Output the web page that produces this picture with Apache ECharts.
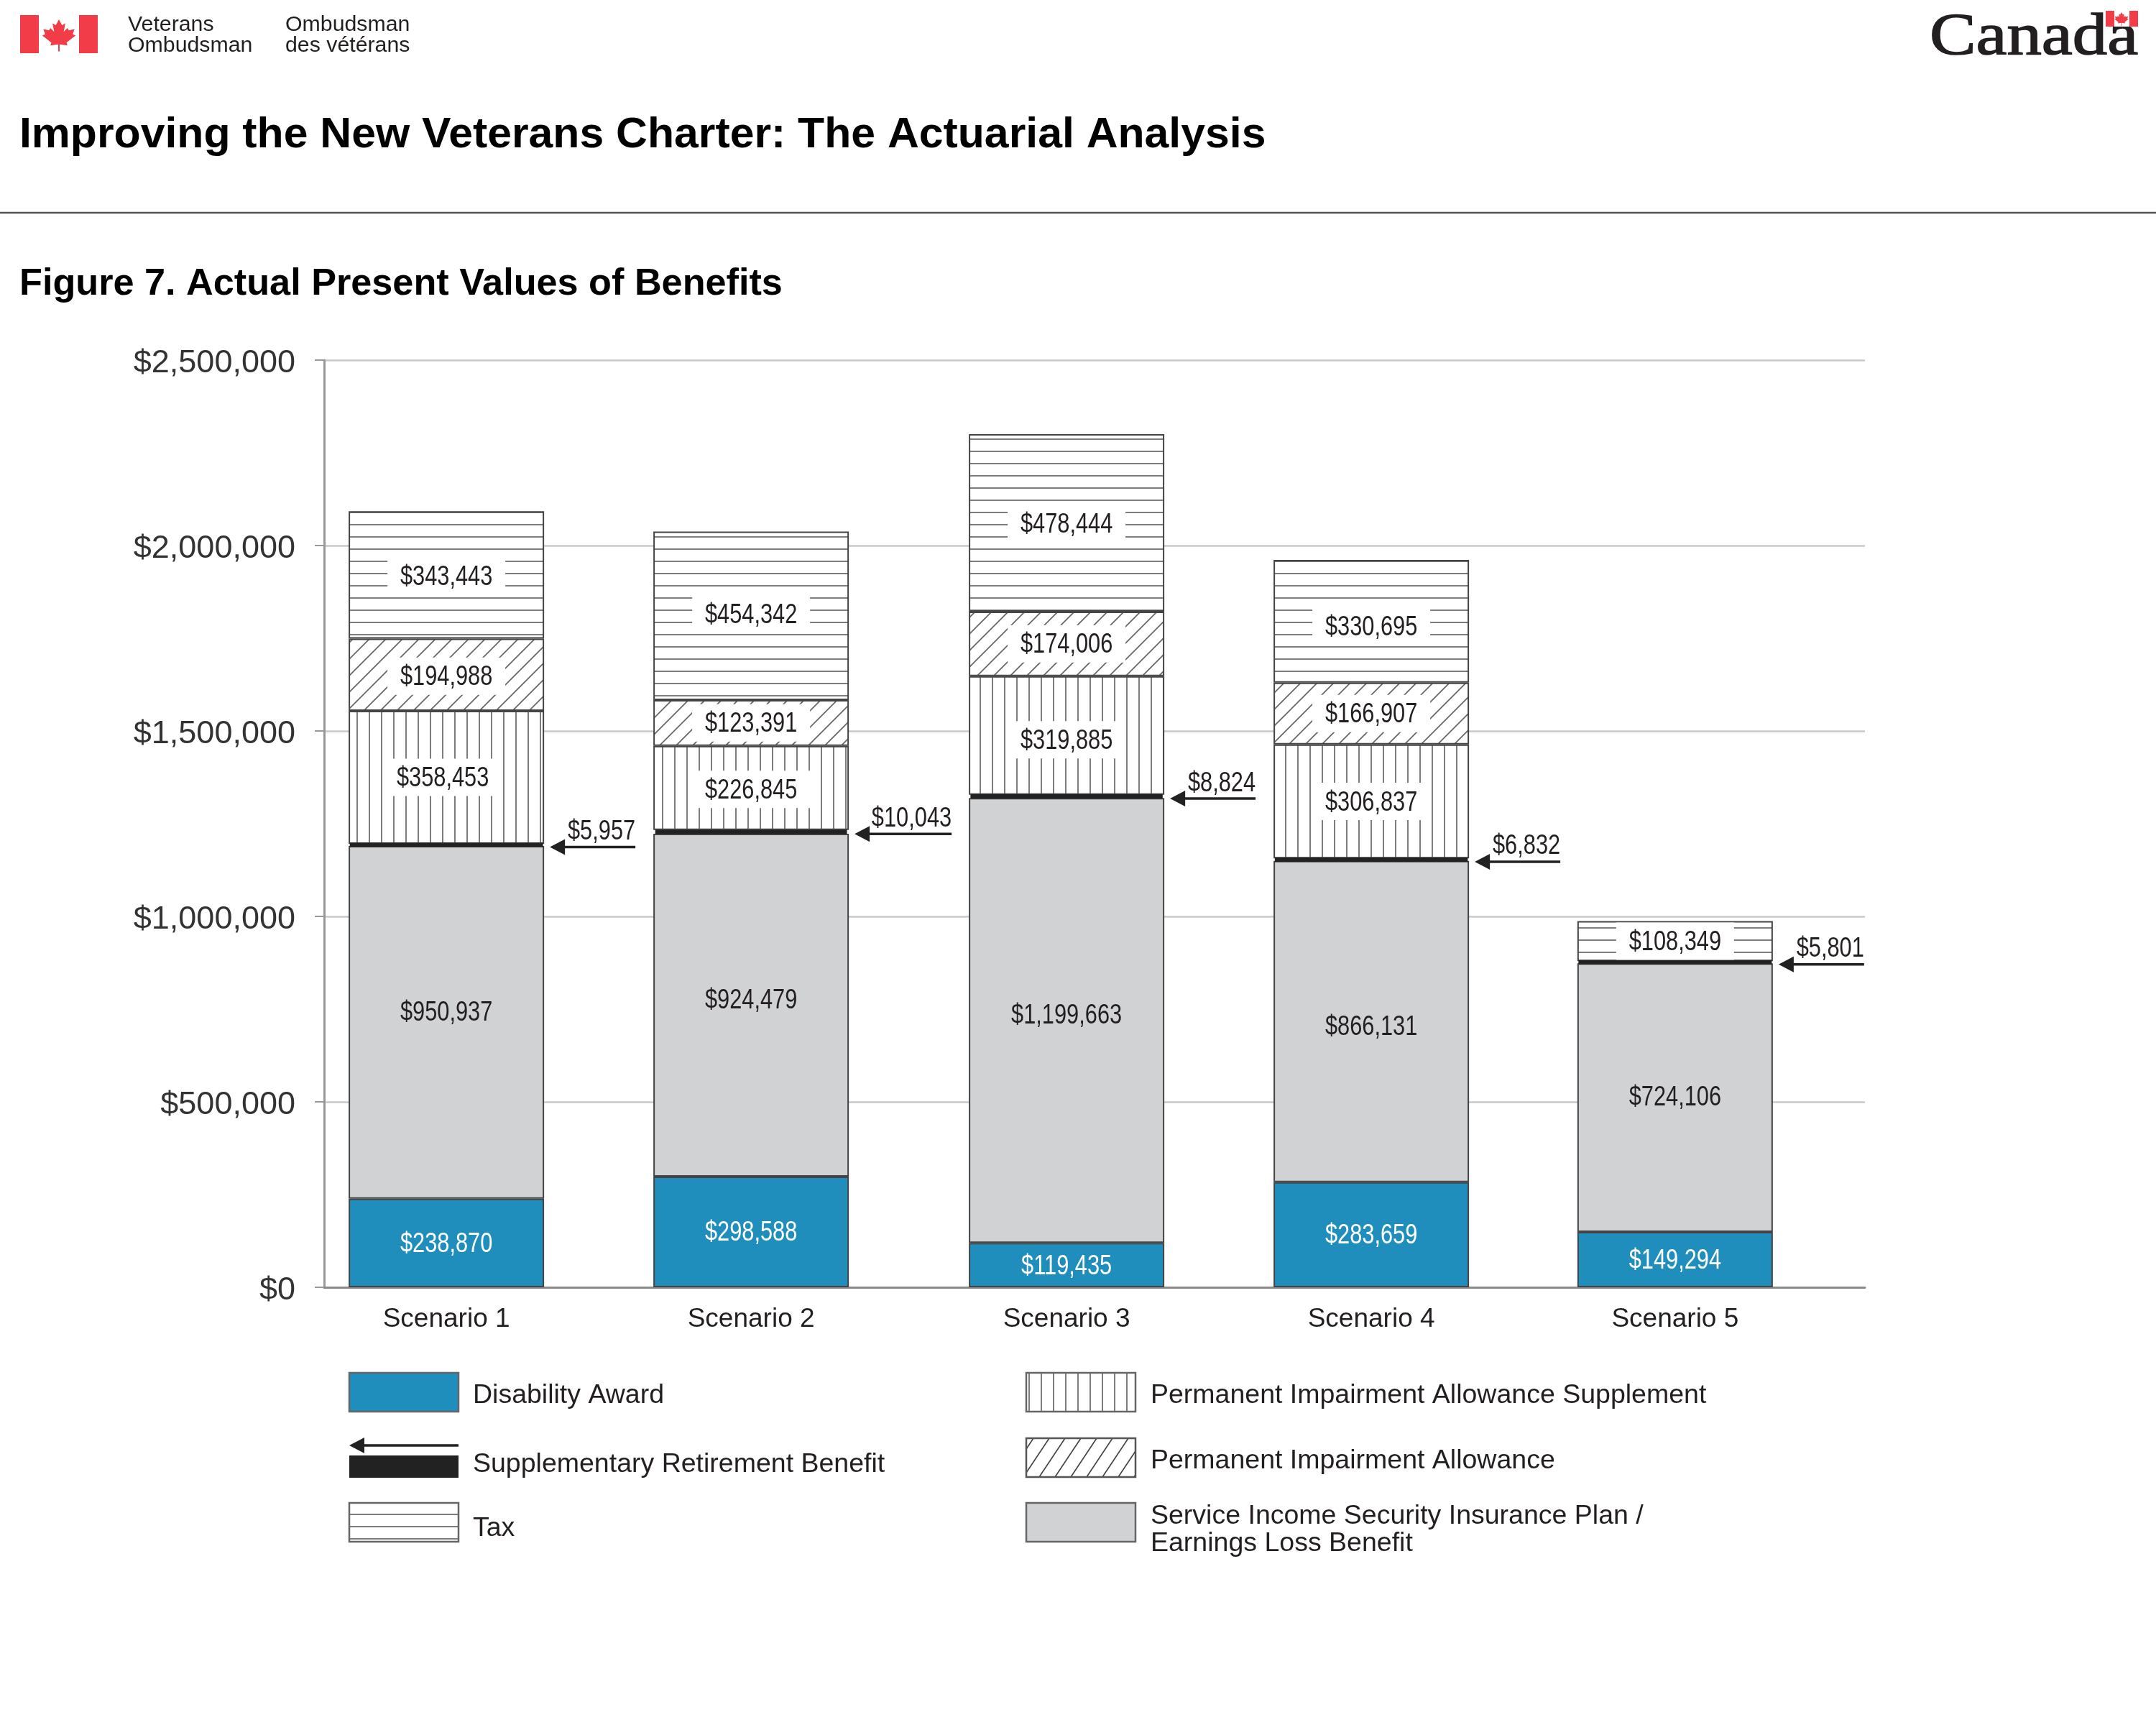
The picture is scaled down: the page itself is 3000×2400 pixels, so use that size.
<!DOCTYPE html>
<html><head><meta charset="utf-8">
<style>html,body{margin:0;padding:0;background:#fff}#c{width:3000px;height:2400px}</style>
<script src="https://cdn.jsdelivr.net/npm/echarts@6/dist/echarts.min.js"></script>
</head><body><div id="c"></div>
<script>
const scenarios = ['Scenario 1','Scenario 2','Scenario 3','Scenario 4','Scenario 5'];
const disabilityAward = [238870,298588,119435,283659,149294];
const incomeBenefit = [950937,924479,1199663,866131,724106];
const retirementBenefit = [5957,10043,8824,6832,5801];
const impairmentSupplement = [358453,226845,319885,306837,null];
const impairmentAllowance = [194988,123391,174006,166907,null];
const tax = [343443,454342,478444,330695,108349];

// Layout: the source spaces its bars slightly unevenly, so the x axis is a slot scale.
const slotOf = [1,1.992,3.019,4.011,5];
// Layout: hand placement of a few value labels off their segment centres, [dx,dy] by "scenario/layer".
const labelNudge = {'0/1':[0,-15],'0/3':[-5,0],'0/4':[0,2],'0/5':[0,2],'1/1':[0,-8],'1/3':[0,2],'1/5':[0,-2],
  '2/1':[0,-8],'2/3':[0,6],'2/5':[0,1],'3/1':[0,6],'3/5':[0,7],'4/1':[0,-2]};
const SANS = '"Liberation Sans",Arial,sans-serif';
const INK = '#231f20';
const money = v => '$' + Number(v).toLocaleString('en-US');

function tile(w,h,draw){const c=document.createElement('canvas');c.width=w;c.height=h;const g=c.getContext('2d');
  g.fillStyle='#fff';g.fillRect(0,0,w,h);g.strokeStyle='#666';g.lineWidth=1.7;draw(g,w,h);
  return {image:c,repeat:'repeat'};}
const hPat = tile(17,17,(g)=>{g.beginPath();g.moveTo(0,16);g.lineTo(17,16);g.stroke();});
const vPat = tile(17,17,(g)=>{g.beginPath();g.moveTo(4,0);g.lineTo(4,17);g.stroke();});
const dPat = tile(23,23,(g,w)=>{g.beginPath();g.moveTo(-3,w+3);g.lineTo(w+3,-3);g.moveTo(-3,3);g.lineTo(3,-3);g.moveTo(w-3,w+3);g.lineTo(w+3,w-3);g.stroke();});
const dPatLegend = tile(22,33,(g,w,h)=>{g.strokeStyle='#444';g.beginPath();g.moveTo(-4,h+6);g.lineTo(w+4,-6);g.moveTo(-4,6);g.lineTo(4,-6);g.moveTo(w-4,h+6);g.lineTo(w+4,h-6);g.stroke();});

const BLUE='#1f8ebd', GREY='#d1d2d4', BAR_W=272;
function seg(name,vals,color,extra){
  return Object.assign({
    name,type:'bar',stack:'t',barWidth:BAR_W,
    data:vals.map((v,i)=>[v,slotOf[i]]),
    encode:{x:1,y:0},
    itemStyle:{color,borderColor:'#444',borderWidth:2},
    emphasis:{disabled:true},animation:false
  },extra||{});
}

// value labels (condensed as in the source), centred on each stacked segment
const labelRows=[], labelKeys=[];
scenarios.forEach((_,i)=>{
  let base=0;
  [[disabilityAward,0],[incomeBenefit,1],[retirementBenefit,-1],[impairmentSupplement,2],[impairmentAllowance,2],[tax,2]].forEach(([arr,kind],layer)=>{
    const v=arr[i]; if(v==null) return;
    if(kind>=0){labelRows.push([slotOf[i],base+v/2,v,kind]);labelKeys.push(i+'/'+layer);}
    base+=v;
  });
});
const textBlock=(txt,align,fill)=>({type:'text',scaleX:0.81,style:{text:txt,x:0,y:0,align,verticalAlign:'middle',fill,font:'38px '+SANS}});
const labelSeries={
  type:'custom',name:'values',silent:true,animation:false,z:6,
  data:labelRows,encode:{x:0,y:1},
  renderItem(params,api){
    const p=api.coord([api.value(0),api.value(1)]);
    const kind=api.value(3), txt=money(api.value(2));
    const n=labelNudge[labelKeys[params.dataIndex]]||[0,0];
    const kids=[];
    if(kind===2) kids.push({type:'rect',shape:{x:-82,y:-28,width:164,height:52},style:{fill:'#fff'}});
    kids.push(textBlock(txt,'center',kind===0?'#fff':INK));
    return {type:'group',x:p[0]+n[0],y:p[1]+2+n[1],children:kids};
  }
};

const cumBelow = scenarios.map((_,i)=>disabilityAward[i]+incomeBenefit[i]+retirementBenefit[i]/2);
const arrowSeries={
  type:'custom',name:'arrows',silent:true,animation:false,z:5,
  data:scenarios.map((_,i)=>[slotOf[i],cumBelow[i],retirementBenefit[i]]),
  encode:{x:0,y:1},
  renderItem(params,api){
    const p=api.coord([api.value(0),api.value(1)]);
    const txt=money(api.value(2));
    const tip=p[0]+BAR_W/2+8, y=p[1]+3, end=tip+119+(txt.length-6)*16;
    return {type:'group',children:[
      {type:'line',shape:{x1:tip+15,y1:y,x2:end,y2:y},style:{stroke:'#222',lineWidth:3.5}},
      {type:'polygon',shape:{points:[[tip,y],[tip+21,y-11],[tip+21,y+11]]},style:{fill:'#222'}},
      Object.assign(textBlock(txt,'right',INK),{x:end,y:y-21})
    ]};
  }
};

function leaf(cx,top,s,fill){
  const u=[[0,0],[-.13,.24],[-.27,.17],[-.2,.52],[-.36,.36],[-.42,.46],[-.66,.41],[-.58,.62],[-.7,.68],[-.32,.98],[-.36,1.1],[-.03,1.05],[-.03,1.35],[.03,1.35],[.03,1.05],[.36,1.1],[.32,.98],[.7,.68],[.58,.62],[.66,.41],[.42,.46],[.36,.36],[.2,.52],[.27,.17],[.13,.24]];
  return {type:'polygon',shape:{points:u.map(q=>[cx+q[0]*s,top+q[1]*s])},style:{fill}};
}
const RED='#f23c47';
const T=(text,x,y,font,extra,sx)=>({type:'text',x,y,scaleX:sx||1,style:Object.assign({text,x:0,y:0,font,fill:INK,verticalAlign:'middle'},extra||{})});
const R=(x,y,w,h,fill,stroke)=>({type:'rect',shape:{x,y,width:w,height:h},style:{fill,stroke:stroke||null,lineWidth:stroke?2.5:0}});
const LEG='37.5px '+SANS;
const head=[
  R(28,21,26,53,RED),R(110,21,26,53,RED),leaf(82,27,33,RED),
  T('Veterans',178,35,'30.3px '+SANS),T('Ombudsman',178,64,'30.3px '+SANS),
  T('Ombudsman',397,35,'30.3px '+SANS),T('des vétérans',397,64,'30.3px '+SANS),
  T('Canada',2685,53,'82px "Liberation Serif",serif',{stroke:INK,lineWidth:1.5},1.18),
  R(2942,15,21,22,'#fff'),R(2930,15,12,22,RED),R(2963,15,12,22,RED),leaf(2952,17,14,RED),
  T('Improving the New Veterans Charter: The Actuarial Analysis',27,188,'bold 60px '+SANS,{fill:'#000'},1.012),
  {type:'line',shape:{x1:0,y1:296,x2:3000,y2:296},style:{stroke:'#555',lineWidth:2.5}},
  T('Figure 7. Actual Present Values of Benefits',27,396,'bold 52px '+SANS,{fill:'#000'},1.004)
];
const legendItems=[
  R(486,1910,152,54,BLUE,'#666'),T('Disability Award',658,1942,LEG),
  {type:'line',shape:{x1:500,y1:2011,x2:638,y2:2011},style:{stroke:'#222',lineWidth:3.5}},
  {type:'polygon',shape:{points:[[486,2011],[507,2000],[507,2022]]},style:{fill:'#222'}},
  R(486,2025,152,31,'#222'),T('Supplementary Retirement Benefit',658,2038,LEG),
  R(486,2091,152,54,hPat,'#666'),T('Tax',658,2127,LEG),
  R(1428,1910,152,54,vPat,'#666'),T('Permanent Impairment Allowance Supplement',1601,1942,LEG),
  R(1428,2001,152,54,dPatLegend,'#555'),T('Permanent Impairment Allowance',1601,2033,LEG),
  R(1428,2091,152,54,GREY,'#666'),T('Service Income Security Insurance Plan /',1601,2110,LEG),T('Earnings Loss Benefit',1601,2148,LEG)
];

const chart=echarts.init(document.getElementById('c'),null,{renderer:'canvas',devicePixelRatio:1});
chart.setOption({
  backgroundColor:'#fff',animation:false,
  grid:{left:451,top:501,width:2144,height:1290,containLabel:false},
  xAxis:{type:'value',min:0.602,max:5.618,splitLine:{show:false},axisTick:{show:false},
    axisLine:{show:true,onZero:false,lineStyle:{color:'#8a8a8a',width:3}},
    axisLabel:{customValues:slotOf,showMinLabel:true,showMaxLabel:true,margin:26,fontFamily:SANS,fontSize:37,color:INK,
      formatter:v=>scenarios[slotOf.indexOf(v)]||''}},
  yAxis:{type:'value',min:0,max:2500000,interval:500000,
    axisLine:{show:true,lineStyle:{color:'#999',width:3}},
    axisTick:{show:true,length:13,lineStyle:{color:'#999',width:2}},
    splitLine:{show:true,lineStyle:{color:'#c9c9c9',width:2.5}},
    axisLabel:{margin:40,formatter:v=>'{a|'+money(v)+'}',
      rich:{a:{fontFamily:SANS,fontSize:45,color:'#333',padding:[9,0,0,0]}}}},
  series:[
    seg('Disability Award',disabilityAward,BLUE),
    seg('Service Income Security Insurance Plan / Earnings Loss Benefit',incomeBenefit,GREY),
    seg('Supplementary Retirement Benefit',retirementBenefit,'#222',{z:3,itemStyle:{color:'#222',borderColor:'#222',borderWidth:6}}),
    seg('Permanent Impairment Allowance Supplement',impairmentSupplement,vPat),
    seg('Permanent Impairment Allowance',impairmentAllowance,dPat),
    seg('Tax',tax,hPat),
    labelSeries,
    arrowSeries
  ],
  graphic:{elements:head.concat(legendItems)}
});
</script></body></html>
